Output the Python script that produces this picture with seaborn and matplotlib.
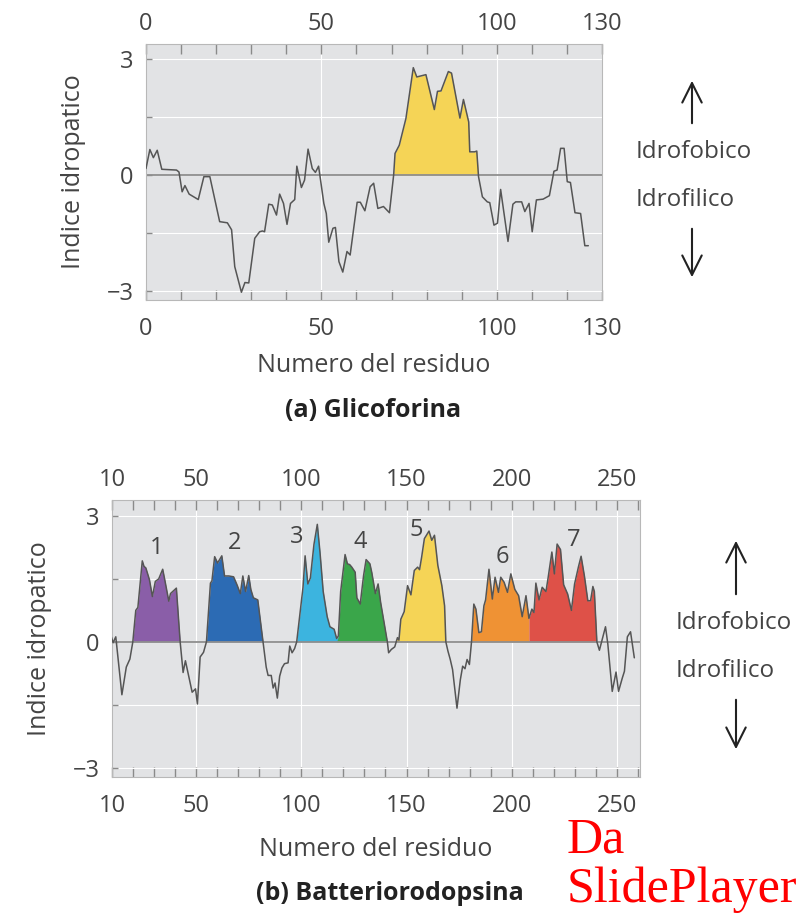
"""Hydropathy plots of glycophorin and bacteriorhodopsin."""

import matplotlib

matplotlib.use("Agg")
import matplotlib.pyplot as plt
import numpy as np
import seaborn as sns
from matplotlib.patches import FancyArrowPatch

# (a) glycophorin: residue number vs hydropathy index
glyco_res = [
    0.0, 1.1, 2.1, 3.2, 4.5, 8.7, 9.4, 10.3, 11.1, 12.3, 14.9, 16.5, 18.2,
    21.0, 23.2, 24.4, 25.3, 27.2, 28.2, 29.3, 31.0, 32.4, 33.2, 33.8, 35.0,
    36.0, 37.2, 38.1, 39.2, 40.2, 41.2, 42.4, 43.0, 44.3, 45.2, 46.2, 47.4,
    48.3, 49.2, 50.7, 51.4, 52.1, 53.3, 54.0, 55.0, 56.1, 57.3, 58.2, 60.2,
    61.1, 62.4, 63.9, 64.9, 66.1, 67.7, 69.4, 70.6, 71.0, 72.2, 74.1, 76.2,
    77.2, 79.8, 82.2, 83.1, 84.1, 86.2, 87.1, 89.5, 90.5, 92.0, 92.3, 93.7,
    94.3, 94.8, 95.9, 97.3, 98.0, 99.2, 100.2, 101.1, 103.2, 104.6, 105.4,
    107.1, 108.0, 109.2, 110.1, 111.3, 113.2, 115.0, 116.3, 117.2, 118.2,
    119.2, 120.1, 121.0, 122.3, 123.9, 125.1, 126.1,
]
glyco_idx = [
    0.17, 0.66, 0.45, 0.64, 0.15, 0.13, 0.08, -0.43, -0.27, -0.49, -0.63,
    -0.04, -0.04, -1.20, -1.23, -1.41, -2.36, -3.02, -2.77, -2.78, -1.63,
    -1.46, -1.44, -1.46, -0.75, -0.77, -1.03, -0.49, -0.73, -1.27, -0.73,
    -0.63, 0.23, -0.32, -0.13, 0.67, 0.17, 0.07, 0.23, -0.73, -0.99, -1.73,
    -1.37, -1.35, -2.23, -2.50, -1.97, -2.06, -0.70, -0.70, -0.92, -0.30,
    -0.21, -0.86, -0.81, -0.97, 0.00, 0.56, 0.77, 1.46, 2.77, 2.53, 2.59,
    1.69, 2.16, 2.17, 2.67, 2.63, 1.47, 1.95, 1.37, 0.60, 0.60, 0.62, -0.04,
    -0.56, -0.69, -0.71, -1.29, -1.24, -0.37, -1.71, -0.75, -0.69, -0.69,
    -0.94, -0.73, -1.46, -0.64, -0.62, -0.53, 0.10, 0.13, 0.69, 0.69, -0.17,
    -0.19, -0.97, -0.99, -1.82, -1.82,
]
glyco_span = [(70.5, 94.8)]
glyco_colors = ["#f5d456"]

# (b) bacteriorhodopsin
bacterio_res = [
    9.5, 10.5, 11.8, 14.7, 16.8, 18.5, 19.9, 21.3, 22.3, 24.4, 25.2, 26.1,
    27.8, 29.2, 30.6, 32.2, 34.1, 35.0, 37.0, 37.8, 40.6, 42.4, 43.8, 44.9,
    48.1, 49.7, 50.6, 51.9, 53.5, 54.9, 56.8, 57.5, 58.8, 60.2, 61.0, 62.2,
    63.5, 65.5, 67.8, 69.5, 71.0, 72.2, 73.5, 75.0, 76.0, 77.2, 79.3, 81.8,
    83.3, 84.2, 85.7, 86.6, 87.5, 88.6, 89.7, 90.8, 92.0, 93.7, 94.5, 95.6,
    96.8, 97.8, 100.8, 101.8, 103.1, 104.3, 106.0, 107.6, 108.9, 110.4,
    112.3, 113.6, 115.6, 116.8, 117.6, 118.7, 120.8, 121.9, 123.0, 124.0,
    125.6, 126.4, 128.0, 129.6, 130.8, 132.6, 133.5, 135.2, 136.5, 137.7,
    140.9, 141.5, 142.8, 144.4, 145.7, 146.4, 147.3, 148.9, 150.5, 152.1,
    153.7, 155.3, 156.2, 157.2, 158.5, 160.7, 162.0, 163.3, 164.9, 166.8,
    168.1, 168.7, 169.7, 170.8, 171.9, 174.0, 175.6, 176.7, 177.8, 178.8,
    179.9, 180.9, 182.0, 183.0, 184.4, 185.6, 186.8, 187.6, 189.2, 190.8,
    192.1, 193.7, 194.8, 196.4, 198.0, 199.6, 201.5, 203.3, 205.0, 206.8,
    208.2, 209.6, 210.6, 211.5, 213.0, 214.5, 216.3, 217.3, 219.1, 220.3,
    221.6, 223.2, 224.7, 226.6, 228.4, 229.9, 231.8, 233.0, 234.6, 236.2,
    237.5, 238.6, 239.3, 240.5, 241.7, 243.0, 244.6, 245.7, 247.8, 249.6,
    250.8, 252.6, 253.6, 255.0, 256.5, 258.3,
]
bacterio_idx = [
    0.15, -0.02, 0.12, -1.26, -0.60, -0.41, 0.00, 0.75, 0.82, 1.93, 1.80,
    1.76, 1.48, 1.08, 1.44, 1.50, 1.73, 1.50, 0.97, 1.15, 1.28, 0.00, -0.73,
    -0.45, -1.20, -1.12, -1.48, -0.36, -0.25, 0.00, 1.40, 1.45, 2.03, 1.88,
    1.95, 2.05, 1.57, 1.57, 1.55, 1.35, 1.15, 1.57, 1.20, 1.58, 1.25, 1.05,
    1.00, 0.00, -0.60, -0.80, -0.80, -1.10, -0.98, -1.34, -0.82, -0.62,
    -0.52, -0.50, -0.10, -0.26, -0.16, 0.00, 1.30, 2.05, 1.38, 1.52, 2.32,
    2.80, 2.12, 1.20, 0.60, 0.36, 0.30, 0.08, 0.14, 1.20, 2.08, 1.86, 1.84,
    1.78, 1.66, 1.05, 0.90, 1.58, 1.96, 1.86, 1.65, 1.15, 1.38, 0.94, 0.00,
    -0.26, -0.18, -0.12, 0.10, 0.04, 0.54, 0.72, 1.34, 1.12, 1.70, 1.78,
    1.72, 2.02, 2.46, 2.64, 2.42, 2.54, 1.82, 1.34, 0.86, 0.00, -0.22,
    -0.42, -0.66, -1.58, -0.90, -0.58, -0.64, -0.42, -0.54, 0.00, 0.90,
    0.78, 0.22, 0.24, 0.86, 1.00, 1.73, 1.02, 1.54, 1.18, 1.54, 1.42, 1.18,
    1.62, 1.25, 1.10, 0.60, 1.10, 0.56, 0.78, 0.70, 1.40, 1.00, 1.30, 1.20,
    1.52, 2.14, 1.62, 2.33, 2.20, 1.36, 1.14, 0.75, 1.38, 1.80, 2.04, 1.56,
    0.98, 0.98, 1.32, 1.20, 0.00, -0.20, 0.05, 0.36, -0.05, -1.18, -0.72,
    -1.18, -0.86, -0.70, 0.12, 0.24, -0.38,
]
helix_spans = [
    (19.9, 42.4), (54.9, 81.8), (97.8, 117.6), (117.6, 140.9),
    (145.5, 168.7), (180.9, 208.2), (208.2, 240.5),
]
helix_names = ["1", "2", "3", "4", "5", "6", "7"]
helix_colors = [
    "#8a5ea8", "#2c6bb4", "#3cb4df", "#3aa64a",
    "#f5d456", "#ef9234", "#de5148",
]

TEXT = "#444444"
LINE = "#555555"
W, H = 810.0, 915.0

sns.set_style("darkgrid", rc={
    "axes.facecolor": "#e2e3e5",
    "axes.edgecolor": "#b8b8b8",
    "axes.linewidth": 1.0,
    "grid.color": "white",
    "grid.linewidth": 1.2,
})
plt.rcParams["font.family"] = ["Open Sans", "DejaVu Sans"]


def draw_profile(ax, res, idx, spans, colors, xlim, major, minor):
    res = np.asarray(res)
    idx = np.asarray(idx)
    for (lo, hi), col in zip(spans, colors):
        inside = (res >= lo) & (res <= hi)
        ax.fill_between(res, 0, np.clip(idx, 0, None), where=inside,
                        color=col, lw=0, interpolate=True, zorder=2)
    ax.axhline(0, color="#8e8e8e", lw=1.3, zorder=2.5)
    sns.lineplot(x=res, y=idx, ax=ax, color=LINE, lw=1.1,
                 estimator=None, sort=False, zorder=3)

    ax.set_xlim(*xlim)
    ax.set_ylim(-3.22, 3.38)
    ax.set_xticks(major)
    ax.set_xticks(minor, minor=True)
    ax.set_yticks([-3, -1.5, 0, 1.5, 3])
    ax.set_yticklabels(["\u22123", "", "0", "", "3"])
    ax.grid(True, which="major")
    ax.grid(False, which="minor")
    ax.tick_params(axis="x", which="both", direction="in", top=True,
                   bottom=True, labeltop=False, length=7, width=1,
                   color="#8a8a8a", pad=12, labelsize=17, labelcolor=TEXT)
    ax.tick_params(axis="y", direction="in", left=True, length=4, width=1,
                   color="#8a8a8a", pad=9, labelsize=17, labelcolor=TEXT)
    ax.set_xlabel("")
    ax.set_ylabel("")

    # residue numbers repeated above the panel
    top = ax.secondary_xaxis("top")
    top.set_xticks(major)
    top.tick_params(length=0, pad=6, labelsize=17, labelcolor=TEXT)
    top.spines["top"].set_visible(False)


def side_labels(fig, x_arrow, x_text, y_up, y_mid, y_down):
    style = "->,head_length=0.7,head_width=0.35"
    for y0, y1 in [(y_mid - 50, y_up), (y_mid + 50, y_down)]:
        fig.patches.append(FancyArrowPatch(
            (x_arrow / W, 1 - y0 / H), (x_arrow / W, 1 - y1 / H),
            transform=fig.transFigure, arrowstyle=style, lw=1.5,
            color="#222222", mutation_scale=20))
    fig.text(x_text / W, 1 - (y_mid - 24) / H, "Idrofobico", ha="left",
             va="center", fontsize=17.5, color=TEXT)
    fig.text(x_text / W, 1 - (y_mid + 24) / H, "Idrofilico", ha="left",
             va="center", fontsize=17.5, color=TEXT)


fig = plt.figure(figsize=(8.1, 9.15), dpi=100)
ax_a = fig.add_axes([146 / W, 1 - 300 / H, 456 / W, 256 / H])
ax_b = fig.add_axes([112 / W, 1 - 777 / H, 528 / W, 277 / H])

draw_profile(ax_a, glyco_res, glyco_idx, glyco_span, glyco_colors,
             (0, 130), [0, 50, 100, 130], np.arange(0, 131, 10))
draw_profile(ax_b, bacterio_res, bacterio_idx, helix_spans, helix_colors,
             (10, 261), [10, 50, 100, 150, 200, 250], np.arange(10, 261, 10))

# helix numbers above each coloured segment
res_b = np.asarray(bacterio_res)
idx_b = np.asarray(bacterio_idx)
label_dx = [0, 0, -10, -1, -2.5, 1, 5]
label_dy = [0.3, 0.3, -0.3, 0.3, 0.03, 0.3, 0.1]
for (lo, hi), name, dx, dy in zip(helix_spans, helix_names, label_dx, label_dy):
    seg = idx_b[(res_b >= lo) & (res_b <= hi)]
    ax_b.text((lo + hi) / 2 + dx, seg.max() + dy, name, ha="center",
              va="center", fontsize=17, color=TEXT, zorder=4)

# axis and panel titles
for ax, xl_y, ttl_y, ttl, ttl_x in [
    (ax_a, 365, 410, "(a) Glicoforina", 373),
    (ax_b, 850, 893, "(b) Batteriorodopsina", 390),
]:
    bb = ax.get_position()
    fig.text((bb.x0 + bb.x1) / 2, 1 - xl_y / H, "Numero del residuo",
             ha="center", va="center", fontsize=18, color=TEXT)
    fig.text(ttl_x / W, 1 - ttl_y / H, ttl, ha="center", va="center",
             fontsize=18, fontweight="bold", color="#222222")
    fig.text(bb.x0 - 72 / W, (bb.y0 + bb.y1) / 2, "Indice idropatico",
             rotation=90, ha="center", va="center", fontsize=18, color=TEXT)

side_labels(fig, 692, 636, 78, 176, 280)
side_labels(fig, 736, 676, 538, 647, 752)

fig.text(567 / W, 1 - 840 / H, "Da", ha="left", va="center",
         fontsize=36, color="red", family="Liberation Serif")
fig.text(567 / W, 1 - 890 / H, "SlidePlayer", ha="left", va="center",
         fontsize=36, color="red", family="Liberation Serif")

fig.savefig("out.png", dpi=100)
